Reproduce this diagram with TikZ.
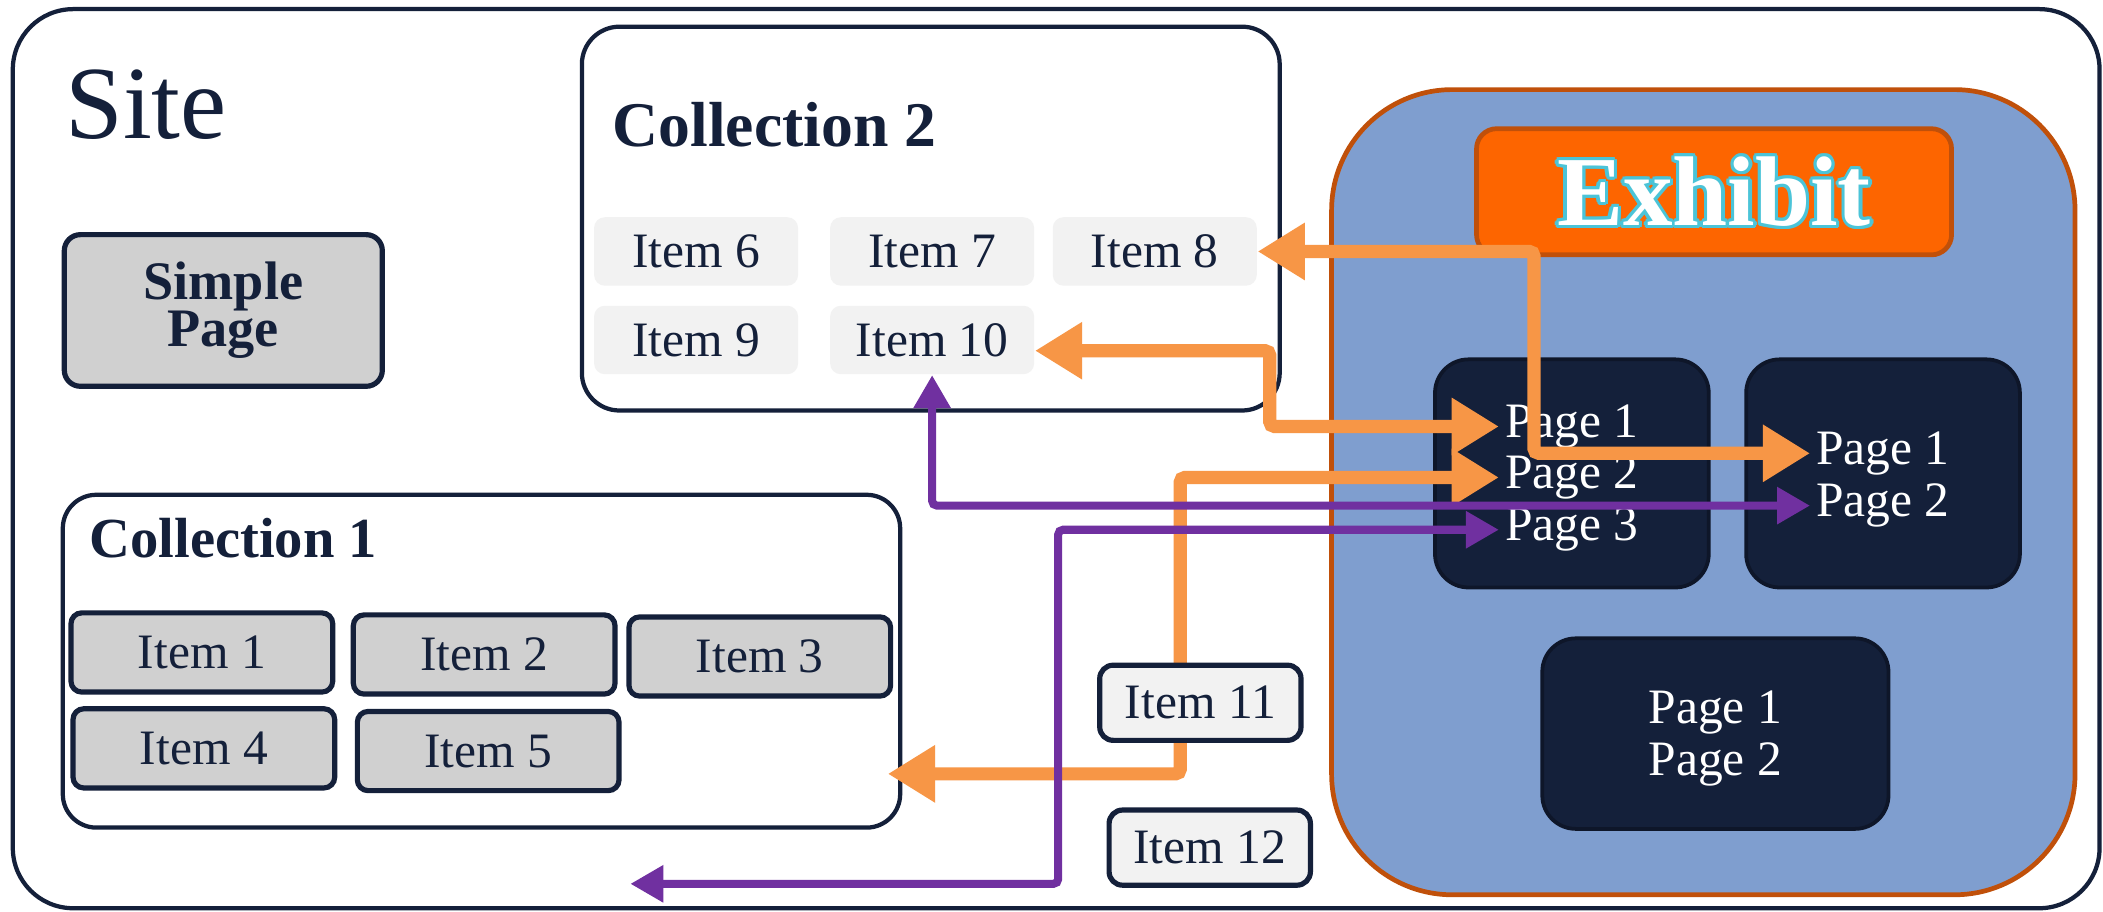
\documentclass[tikz,border=0pt]{standalone}
\usepackage{fontspec}
\setmainfont{Liberation Serif}
\usetikzlibrary{arrows.meta}

\definecolor{navy}{HTML}{14203A}
\definecolor{itemgray}{HTML}{D0D0D0}
\definecolor{itemlight}{HTML}{F2F2F2}
\definecolor{exblue}{HTML}{7F9ECF}
\definecolor{exrim}{HTML}{C0500A}
\definecolor{exhead}{HTML}{FD6500}
\definecolor{linkorange}{HTML}{F79646}
\definecolor{linkpurple}{HTML}{7030A0}
\definecolor{glow}{HTML}{4BC4D8}

\newcommand{\itemfont}{\fontsize{10.5}{12}\selectfont}

\begin{document}
\begin{tikzpicture}[x=0.01cm, y=-0.01cm,
        frame/.style={draw=navy, line width=0.9pt, fill=white},
        itembox/.style={draw=navy, line width=1.1pt, fill=itemgray, rounded corners=0.08cm,
                minimum width=1.95cm, minimum height=0.59cm, font=\itemfont, text=navy},
        softitem/.style={fill=itemlight, rounded corners=0.08cm,
                minimum width=1.52cm, minimum height=0.51cm, font=\itemfont, text=navy},
        loneitem/.style={draw=navy, line width=1.1pt, fill=itemlight, rounded corners=0.1cm,
                minimum width=1.5cm, minimum height=0.56cm, font=\itemfont, text=navy},
        pagebox/.style={fill=navy, draw=navy!70!black, line width=0.8pt, rounded corners=0.25cm},
        pagetext/.style={text=white, font=\itemfont, inner sep=0.04cm},
        orangelink/.style={draw=linkorange, line width=2.8pt, rounded corners=1pt,
                {Triangle[length=10pt,width=11.5pt]}-{Triangle[length=10pt,width=11.5pt]}},
        purplelink/.style={draw=linkpurple, line width=1.7pt, rounded corners=1pt,
                {Triangle[length=7pt,width=7.5pt]}-{Triangle[length=7pt,width=7.5pt]}}]
        \useasboundingbox (0,0) rectangle (1568,680);

        \node[frame, rounded corners=0.45cm, minimum width=15.55cm, minimum height=6.70cm] (site) at (787.5,342) {};
        \node[anchor=base west, text=navy, font=\fontsize{22}{24}\selectfont, inner sep=0] (sitename) at (48,103) {Site};

        \node[draw=navy, line width=1.1pt, fill=itemgray, rounded corners=0.12cm, minimum width=2.37cm, minimum height=1.13cm,
                align=center, text=navy, font=\bfseries\fontsize{11.5}{10}\selectfont] (simple) at (166.5,231.5) {Simple\\Page};

        \node[frame, rounded corners=0.28cm, minimum width=5.2cm, minimum height=2.86cm] (coll2) at (694,163) {};
        \node[anchor=base west, text=navy, font=\bfseries\fontsize{13.5}{15}\selectfont, inner sep=0] (coll2name) at (456,109) {Collection 2};
        \node[softitem] (item6) at (519,187.5) {Item 6};
        \node[softitem] (item7) at (695,187.5) {Item 7};
        \node[softitem] (item8) at (861,187.5) {Item 8};
        \node[softitem] (item9) at (519,253.5) {Item 9};
        \node[softitem] (item10) at (695,253.5) {Item 10};

        \node[frame, rounded corners=0.25cm, minimum width=6.24cm, minimum height=2.48cm] (coll1) at (359,493) {};
        \node[anchor=base west, text=navy, font=\bfseries\fontsize{12}{14}\selectfont, inner sep=0] (coll1name) at (66,416) {Collection 1};
        \node[itembox] (item1) at (150.5,486.5) {Item 1};
        \node[itembox] (item2) at (361,488) {Item 2};
        \node[itembox] (item3) at (566.5,489.5) {Item 3};
        \node[itembox] (item4) at (152,558) {Item 4};
        \node[itembox] (item5) at (364,560) {Item 5};

        \node[draw=exrim, line width=1pt, fill=exblue, rounded corners=0.9cm, minimum width=5.54cm, minimum height=6.0cm] (exhibit) at (1270,367) {};
        \node[draw=exrim, line width=1pt, fill=exhead, rounded corners=0.15cm, minimum width=3.54cm, minimum height=0.94cm] (exhead) at (1278,143) {};
        \foreach \a in {0,30,...,330}
                \node[text=glow, font=\bfseries\fontsize{21}{24}\selectfont] (exglow\a) at ([shift={(\a:0.7pt)}]exhead.center) {Exhibit};
        \node[text=white, font=\bfseries\fontsize{21}{24}\selectfont] (exname) at (exhead.center) {Exhibit};

        \node[pagebox, minimum width=2.04cm, minimum height=1.7cm] (pageA) at (1172,353) {};
        \node[pagebox, minimum width=2.04cm, minimum height=1.7cm] (pageB) at (1404,353) {};
        \node[pagebox, minimum width=2.58cm, minimum height=1.42cm] (pageC) at (1279,547) {};
        \node[pagetext] (pA1) at (1172,318) {Page 1};
        \node[pagetext] (pA2) at (1172,356) {Page 2};
        \node[pagetext] (pA3) at (1172,395) {Page 3};
        \node[pagetext] (pB1) at (1404,338) {Page 1};
        \node[pagetext] (pB2) at (1404,377) {Page 2};
        \node[pagetext] (pC1) at (1279,531) {Page 1};
        \node[pagetext] (pC2) at (1279,570) {Page 2};

        \coordinate (c1in) at (662,577);
        \coordinate (lost) at (470,659);

        \draw[orangelink] (item8.east) -- ++(206,0) |- (pB1.west);
        \draw[orangelink] ([yshift=-0.08cm]item10.east) -- ++(175,0) |- (pA1.west);
        \draw[orangelink] (c1in) -- ++(218,0) |- (pA2.west);

        \draw[purplelink] (item10.south) |- (pB2.west);
        \draw[purplelink] (lost) -- ++(319,0) |- (pA3.west);

        \node[loneitem] (item11) at (895,524) {Item 11};
        \node[loneitem] (item12) at (902,632) {Item 12};
\end{tikzpicture}
\end{document}
